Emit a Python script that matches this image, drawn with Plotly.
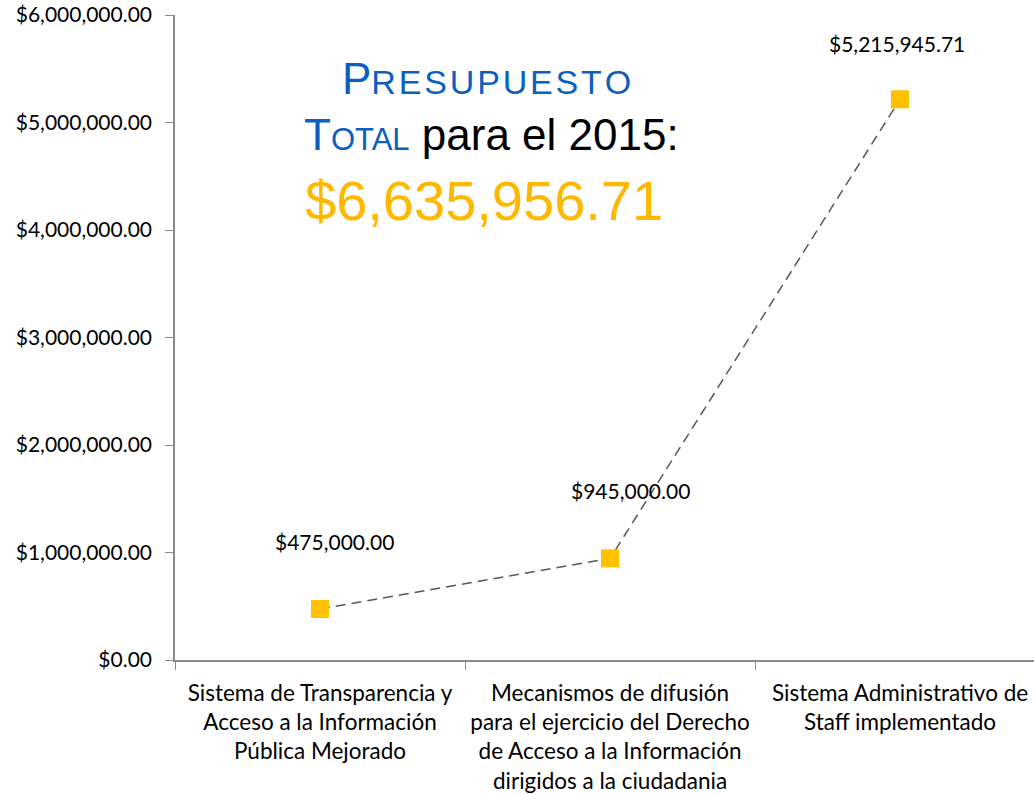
import plotly.graph_objects as go

# Budget per component (2015)
categories = [
    "Sistema de Transparencia y<br>Acceso a la Información<br>Pública Mejorado",
    "Mecanismos de difusión<br>para el ejercicio del Derecho<br>de Acceso a la Información<br>dirigidos a la ciudadania",
    "Sistema Administrativo de<br>Staff implementado",
]
amounts = [475000.00, 945000.00, 5215945.71]
total_label = "$6,635,956.71"

y_ticks = [0, 1000000, 2000000, 3000000, 4000000, 5000000, 6000000]

# pixel nudges for the value labels (x, y)
label_shift = [(14, 67), (20, 68), (-3, 56)]

AXIS_GREY = "#8c8c8c"
GOLD = "#FFC000"
BLUE = "#0B5FBF"
FONT = "Lato"
HS = "\u200a"  # hair space, widens the small caps a bit

fig = go.Figure()

fig.add_trace(go.Scatter(
    x=categories,
    y=amounts,
    mode="lines+markers",
    line=dict(color="#595959", width=1.5, dash="10px,6px"),
    marker=dict(symbol="square", size=18, color=GOLD),
    showlegend=False,
    hoverinfo="skip",
))

# value labels above each point
for cat, val, (dx, dy) in zip(categories, amounts, label_shift):
    fig.add_annotation(
        x=cat, y=val, xref="x", yref="y",
        text="${:,.2f}".format(val),
        showarrow=False, yshift=dy, xshift=dx,
        font=dict(family=FONT, size=21, color="#000000"),
    )

# big title inside the chart
title_font = "Liberation Sans, Arial"
fig.add_annotation(
    x=0.363, y=0.942, xref="paper", yref="paper", showarrow=False,
    text=("<span style='font-size:44px'>P</span>"
          "<span style='font-size:34px'>" + HS.join("RESUPUESTO") + "</span>"),
    font=dict(family=title_font, size=44, color=BLUE),
)
fig.add_annotation(
    x=0.369, y=0.856, xref="paper", yref="paper", showarrow=False,
    text=("<span style='font-size:44px;color:%s'>T</span>"
          "<span style='font-size:31px;color:%s'>OTAL</span>"
          "<span style='font-size:44px;color:#000000'> para el 2015:</span>") % (BLUE, BLUE),
    font=dict(family=title_font, size=44, color="#000000"),
)
fig.add_annotation(
    x=0.36, y=0.765, xref="paper", yref="paper", showarrow=False,
    text=total_label,
    font=dict(family=title_font, size=56, color="#FFB800"),
)

fig.update_layout(
    width=1034, height=794,
    margin=dict(l=175, r=0, t=15, b=134),
    paper_bgcolor="white", plot_bgcolor="white",
    font=dict(family=FONT, size=21, color="#000000"),
)

# right end of the axis runs past the picture edge, as in the original
fig.update_xaxes(
    type="category",
    range=[-0.5, 2.462],
    automargin=False,
    tickangle=0,
    showline=True, linecolor=AXIS_GREY, linewidth=1.5,
    ticks="outside", tickson="boundaries", ticklen=8, tickcolor=AXIS_GREY,
    ticklabelstandoff=12,
    showgrid=False, zeroline=False,
    tickfont=dict(family=FONT, size=22.5, color="#000000"),
)
fig.update_yaxes(
    range=[0, 6000000],
    tickvals=y_ticks,
    tickformat="$,.2f",
    automargin=False,
    ticklabeloverflow="allow",
    showline=True, linecolor=AXIS_GREY, linewidth=1.5,
    ticks="outside", ticklen=8, tickcolor=AXIS_GREY,
    ticklabelstandoff=9,
    showgrid=False, zeroline=False,
    tickfont=dict(family=FONT, size=21, color="#000000"),
)

fig.write_html(
    "out.html",
    config={"displayModeBar": False},
    post_script="document.body.style.margin = '0';",
)
